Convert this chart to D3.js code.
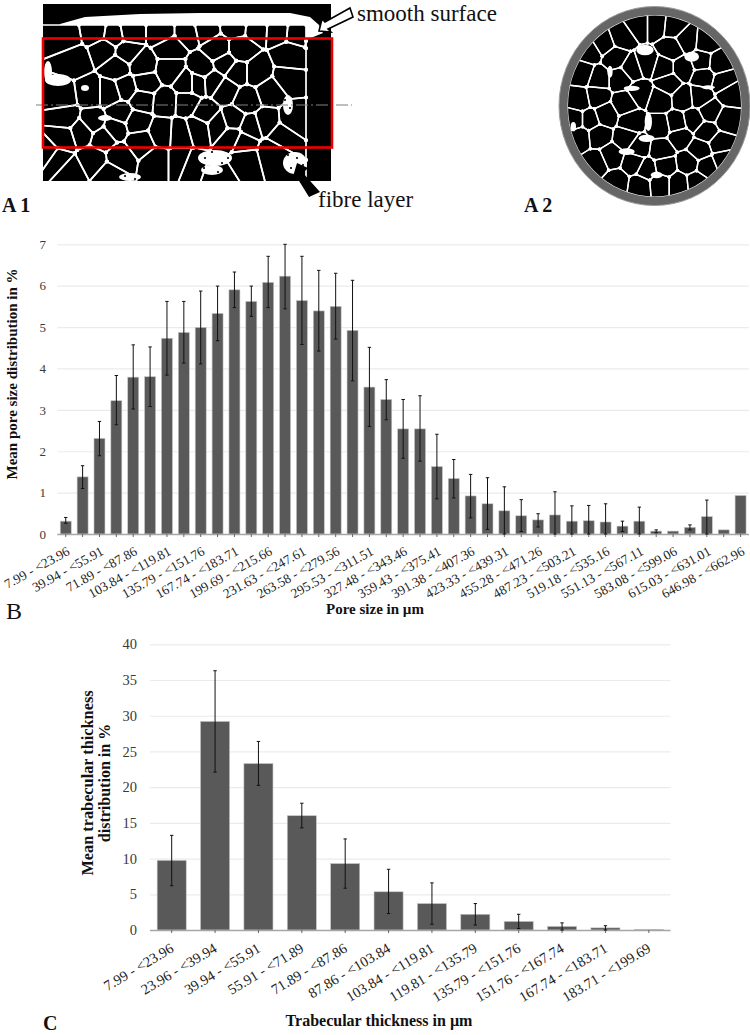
<!DOCTYPE html>
<html><head><meta charset="utf-8">
<script src="https://cdn.jsdelivr.net/npm/d3@7"></script>
<style>html,body{margin:0;padding:0;background:#fff;overflow:hidden}svg{display:block}text{font-family:"Liberation Serif",serif}</style>
</head><body><svg id="c" width="750" height="1035"></svg>
<script>
// --- Chart B: pore size distribution
const poreEdges = ["7.99","23.96","39.94","55.91","71.89","87.86","103.84","119.81","135.79","151.76","167.74","183.71","199.69","215.66","231.63","247.61","263.58","279.56","295.53","311.51","327.48","343.46","359.43","375.41","391.38","407.36","423.33","439.31","455.28","471.26","487.23","503.21","519.18","535.16","551.13","567.11","583.08","599.06","615.03","631.01","646.98","662.96"];
const poreMean = [0.31,1.38,2.31,3.22,3.79,3.80,4.73,4.87,4.99,5.33,5.90,5.62,6.08,6.23,5.64,5.39,5.50,4.92,3.55,3.25,2.54,2.54,1.63,1.34,0.92,0.73,0.56,0.44,0.34,0.46,0.31,0.32,0.29,0.19,0.31,0.07,0.07,0.16,0.42,0.10,0.93];
const poreHigh = [0.40,1.65,2.72,3.83,4.57,4.52,5.62,5.62,5.87,5.99,6.33,5.99,6.71,7.00,6.71,6.37,6.30,6.13,4.51,3.73,3.25,3.34,2.41,1.80,1.44,1.36,1.14,0.83,0.49,1.02,0.68,0.69,0.73,0.31,0.65,0.10,null,0.22,0.82,null,null];
const poreLow  = [0.26,1.10,1.89,2.64,3.02,3.08,3.84,4.13,4.11,4.67,5.47,5.26,5.47,5.44,4.58,4.42,4.71,3.70,2.60,2.76,1.83,1.76,0.85,0.87,0.39,0.11,0,0.06,0.17,0,0,0,0,0.06,0,0.03,null,0.10,0,null,null];
const poreTicks = [0,1,2,3,4,5,6,7];
// --- Chart C: trabecular thickness distribution
const trabEdges = ["7.99","23.96","39.94","55.91","71.89","87.86","103.84","119.81","135.79","151.76","167.74","183.71","199.69"];
const trabMean = [9.75,29.2,23.3,16.0,9.3,5.35,3.7,2.2,1.2,0.5,0.3,0.1];
const trabHigh = [13.25,36.3,26.4,17.75,12.75,8.5,6.6,3.7,2.2,1.0,0.6,null];
const trabLow  = [6.2,22.1,20.25,14.3,5.85,2.3,0.8,0.7,0.2,0,0,null];
const trabTicks = [0,5,10,15,20,25,30,35,40];
// --- Micrographs: pore centres
const a1Pores = [[95,32],[114,35],[130,32],[162,32],[187,32],[66,37],[75,60],[127,52],[104,50],[170,48],[117,67],[142,65],[170,70],[145,83],[126,88],[90,93],[62,97],[110,93],[165,102],[142,100],[137,122],[115,128],[65,117],[82,132],[63,138],[93,122],[120,113],[162,132],[140,142],[180,133],[187,83],[187,103],[103,138],[57,160],[93,160],[70,172],[120,157],[157,163],[180,163],[110,175],[47,153],[257,27],[277,28],[298,30],[235,25],[317,33],[205,28],[240,50],[218,50],[290,58],[257,72],[225,63],[237,72],[202,68],[288,78],[270,92],[197,83],[213,82],[225,90],[247,100],[233,120],[267,122],[218,125],[198,128],[232,137],[243,142],[250,127],[282,135],[292,120],[205,113],[245,160],[272,153],[218,177],[190,167]];
const a1White = [[58,80,13,6],[48,72,4,11],[85,88,4,3],[105,118,7,3],[215,158,17,8],[212,170,11,5],[295,163,12,11],[130,177,11,4],[288,105,5,10]];
const a1Specks = [[205,158],[212,152],[222,163],[204,168],[218,172],[228,158],[288,155],[297,158],[303,165],[291,168],[300,172],[196,172],[125,176],[135,179],[285,100],[290,108]];
const a2Pores = [[265,75],[320,75],[370,80],[215,110],[160,130],[410,120],[365,145],[120,155],[470,125],[195,175],[245,205],[100,220],[145,235],[210,235],[290,190],[340,205],[400,205],[505,190],[455,185],[460,230],[520,245],[355,250],[270,280],[90,300],[140,290],[225,310],[330,300],[400,295],[450,290],[540,280],[120,360],[165,345],[245,365],[330,380],[380,370],[430,360],[530,360],[480,335],[75,360],[90,410],[145,405],[230,415],[335,450],[265,440],[450,450],[510,430],[390,410],[470,395],[140,490],[185,470],[250,490],[345,500],[415,490],[470,500],[200,545],[270,555],[330,550],[385,550],[440,545],[290,510],[520,480]];
const a2White = [[285,150,26,16],[425,170,22,15],[295,365,11,28],[290,415,24,11],[230,455,24,10],[320,525,18,10],[245,265,24,8],[475,262,20,6],[180,215,8,18],[70,380,8,14]];

const svg = d3.select("#c");
const GRID="#ebebeb", BAR="#595959", AXIS="#a6a6a6", TXT="#3a3a3a";

function blobs(g, sites, bounds, wall, node){
  const v = d3.Delaunay.from(sites).voronoi(bounds);
  const cells = sites.map((d,i)=>v.cellPolygon(i)).filter(Boolean);
  g.selectAll("path.p").data(cells).join("path").attr("class","p")
    .attr("d",c=>"M"+c.slice(0,-1).join("L")+"Z").attr("fill","#000");
  g.selectAll("path.w").data(cells).join("path").attr("class","w")
    .attr("d",c=>"M"+c.slice(0,-1).join("L")+"Z").attr("fill","none").attr("stroke","#fff").attr("stroke-width",wall);
  g.selectAll("circle.n").data(cells.flatMap(c=>c.slice(0,-1))).join("circle").attr("class","n")
    .attr("cx",d=>d[0]).attr("cy",d=>d[1]).attr("r",node).attr("fill","#fff");
}
// A1
const im1 = svg.append("g");
const clip1 = svg.append("clipPath").attr("id","cl1");
clip1.append("rect").attr("x",43).attr("y",4).attr("width",288).attr("height",177);
im1.attr("clip-path","url(#cl1)");
im1.append("rect").attr("x",43).attr("y",4).attr("width",288).attr("height",177).attr("fill","#000");
im1.append("path").attr("fill","#fff")
  .attr("d","M57,34 L60,24 L85,17 L140,14 L200,13 L290,13 L310,17 L319,25 L323,33 L306,40 L306,181 L43,181 L43,34 Z");
blobs(im1.append("g"), a1Pores, [40,25,306,185], 1.7, 2);
im1.selectAll("ellipse").data(a1White).join("ellipse").attr("cx",d=>d[0]).attr("cy",d=>d[1]).attr("rx",d=>d[2]).attr("ry",d=>d[3]).attr("fill","#fff");
im1.selectAll("circle.s").data(a1Specks).join("circle").attr("class","s").attr("cx",d=>d[0]).attr("cy",d=>d[1]).attr("r",1.1).attr("fill","#000");
svg.append("line").attr("x1",36).attr("x2",352).attr("y1",105).attr("y2",105).attr("stroke","#808080").attr("stroke-width",1.2).attr("stroke-dasharray","12 3 2 3");
svg.append("rect").attr("x",43).attr("y",38.5).attr("width",289).attr("height",109).attr("fill","none").attr("stroke","#f00000").attr("stroke-width",2.6);
svg.append("polygon").attr("points","350,8 353,17 328,29 331,32 319,31 322,19 325,22").attr("fill","#fff").attr("stroke","#000").attr("stroke-width",1.6);
svg.append("polygon").attr("points","297,163 308,168 303,173 320,192 309,197 296,176 292,180").attr("fill","#000");
// A2
const a2x = d3.scaleLinear().domain([0,3]).range([550,551]);
const a2y = d3.scaleLinear().domain([0,3]).range([0,1]);
const cx=654.5, cy=106;
svg.append("ellipse").attr("cx",cx).attr("cy",cy).attr("rx",95.5).attr("ry",99.5).attr("fill","#666").attr("stroke","#9a9a9a").attr("stroke-width",1);
svg.append("ellipse").attr("cx",cx).attr("cy",cy).attr("rx",87).attr("ry",91).attr("fill","#fff");
svg.append("clipPath").attr("id","cl2").append("ellipse").attr("cx",cx).attr("cy",cy).attr("rx",86.5).attr("ry",90.5);
const im2 = svg.append("g").attr("clip-path","url(#cl2)");
blobs(im2.append("g"), a2Pores.map(d=>[a2x(d[0]),a2y(d[1])]), [555,4,750,210], 1.4, 1.7);
im2.selectAll("ellipse").data(a2White).join("ellipse").attr("cx",d=>a2x(d[0])).attr("cy",d=>a2y(d[1])).attr("rx",d=>d[2]/3).attr("ry",d=>d[3]/3).attr("fill","#fff");

// Captions
function t(x,y,s,size,opt={}){
  return svg.append("text").attr("x",x).attr("y",y).text(s).attr("font-size",size)
    .attr("font-weight",opt.bold?"bold":"normal").attr("fill",opt.fill||"#111").attr("text-anchor",opt.anchor||"start");
}
t(357,20.5,"smooth surface",23);
t(318,207,"fibre layer",23);
t(2,212,"A 1",20,{bold:true});
t(524,212,"A 2",20,{bold:true});
t(6,619,"B",24);
t(43,1030,"C",20,{bold:true});

function chart(o){
  const lab = o.edges.slice(0,-1).map((e,i)=>`${e} - <${o.edges[i+1]}`);
  const x = d3.scaleBand().domain(lab).range(o.xr).paddingInner(o.pad).paddingOuter(o.pad/2);
  const y = d3.scaleLinear().domain(o.yd).range(o.yr);
  const g = svg.append("g");
  // gridlines
  g.append("g").selectAll("line").data(o.ticks.filter(d=>d>0)).join("line")
    .attr("x1",o.xr[0]).attr("x2",o.xr[1]).attr("y1",d=>y(d)+.5).attr("y2",d=>y(d)+.5).attr("stroke",GRID).attr("stroke-width",1.2);
  // bars
  g.append("g").selectAll("rect").data(lab).join("rect")
    .attr("x",d=>x(d)).attr("width",x.bandwidth())
    .attr("y",(d,i)=>y(o.mean[i])).attr("height",(d,i)=>y(0)-y(o.mean[i]))
    .attr("fill",BAR).attr("stroke","#c4c4c4").attr("stroke-width",.6);
  // y labels
  const ya = d3.axisLeft(y).tickValues(o.ticks).tickFormat(d3.format("d")).tickSize(0).tickPadding(0);
  const yg = g.append("g").attr("transform",`translate(${o.yLabX},0)`).call(ya);
  yg.select(".domain").remove();
  yg.selectAll("text").attr("font-family",'"Liberation Serif",serif').attr("font-size",o.tickSize).attr("fill",TXT);
  // x axis
  const xa = d3.axisBottom(x).tickSize(3).tickSizeOuter(0).tickPadding(0).tickFormat((d,i)=>i%o.every===0?d:"");
  const xg = g.append("g").attr("transform",`translate(0,${y(0)})`).call(xa);
  xg.select(".domain").attr("stroke",AXIS).attr("stroke-width",1.5).attr("d",`M${o.xr[0]},0.5H${o.xr[1]}`);
  xg.selectAll("line").attr("stroke","#666");
  xg.selectAll("text").attr("font-family",'"Liberation Serif",serif').attr("font-size",o.labSize).attr("fill","#222")
    .attr("text-anchor","end").attr("dy",0).attr("y",0)
    .attr("transform",`translate(${o.labDx},${o.labDy}) rotate(${o.rot})`);
  // error bars
  const idx = lab.map((d,i)=>i).filter(i=>o.high[i]!=null);
  const eb = g.append("g").attr("stroke","#111").attr("stroke-width",1).attr("fill","none");
  const cxf = i=>x(lab[i])+x.bandwidth()/2;
  eb.selectAll("line.v").data(idx).join("line").attr("class","v").attr("x1",cxf).attr("x2",cxf).attr("y1",i=>y(o.high[i])).attr("y2",i=>y(o.low[i]));
  eb.selectAll("line.h").data(idx).join("line").attr("class","h").attr("x1",i=>cxf(i)-1.7).attr("x2",i=>cxf(i)+1.7).attr("y1",i=>y(o.high[i])).attr("y2",i=>y(o.high[i]));
  eb.selectAll("line.l").data(idx).join("line").attr("class","l").attr("x1",i=>cxf(i)-1.7).attr("x2",i=>cxf(i)+1.7).attr("y1",i=>y(o.low[i])).attr("y2",i=>y(o.low[i]));
}
chart({edges:poreEdges,mean:poreMean,high:poreHigh,low:poreLow,ticks:poreTicks,xr:[57.3,749],yd:[0,7],yr:[534,244.3],pad:.35,every:2,yLabX:46,tickSize:13,labSize:13.4,labDx:5,labDy:20,rot:-29});
chart({edges:trabEdges,mean:trabMean,high:trabHigh,low:trabLow,ticks:trabTicks,xr:[150,670.5],yd:[0,40],yr:[930,644.3],pad:.33,every:1,yLabX:137,tickSize:14.5,labSize:14.5,labDx:3,labDy:21,rot:-31});

// Axis titles
t(375,614,"Pore size in µm",15,{bold:true,anchor:"middle"});
t(379,1026,"Trabecular thickness in µm",16,{bold:true,anchor:"middle"});
function rt(x,y,s,size){svg.append("text").attr("transform",`translate(${x},${y}) rotate(-90)`).attr("text-anchor","middle").attr("font-size",size).attr("font-weight","bold").attr("fill","#111").text(s);}
rt(17,374,"Mean pore size distribution in %",15);
rt(93,783,"Mean trabecular thickness",16.3);
rt(110,783,"distribution in %",16);
</script></body></html>
